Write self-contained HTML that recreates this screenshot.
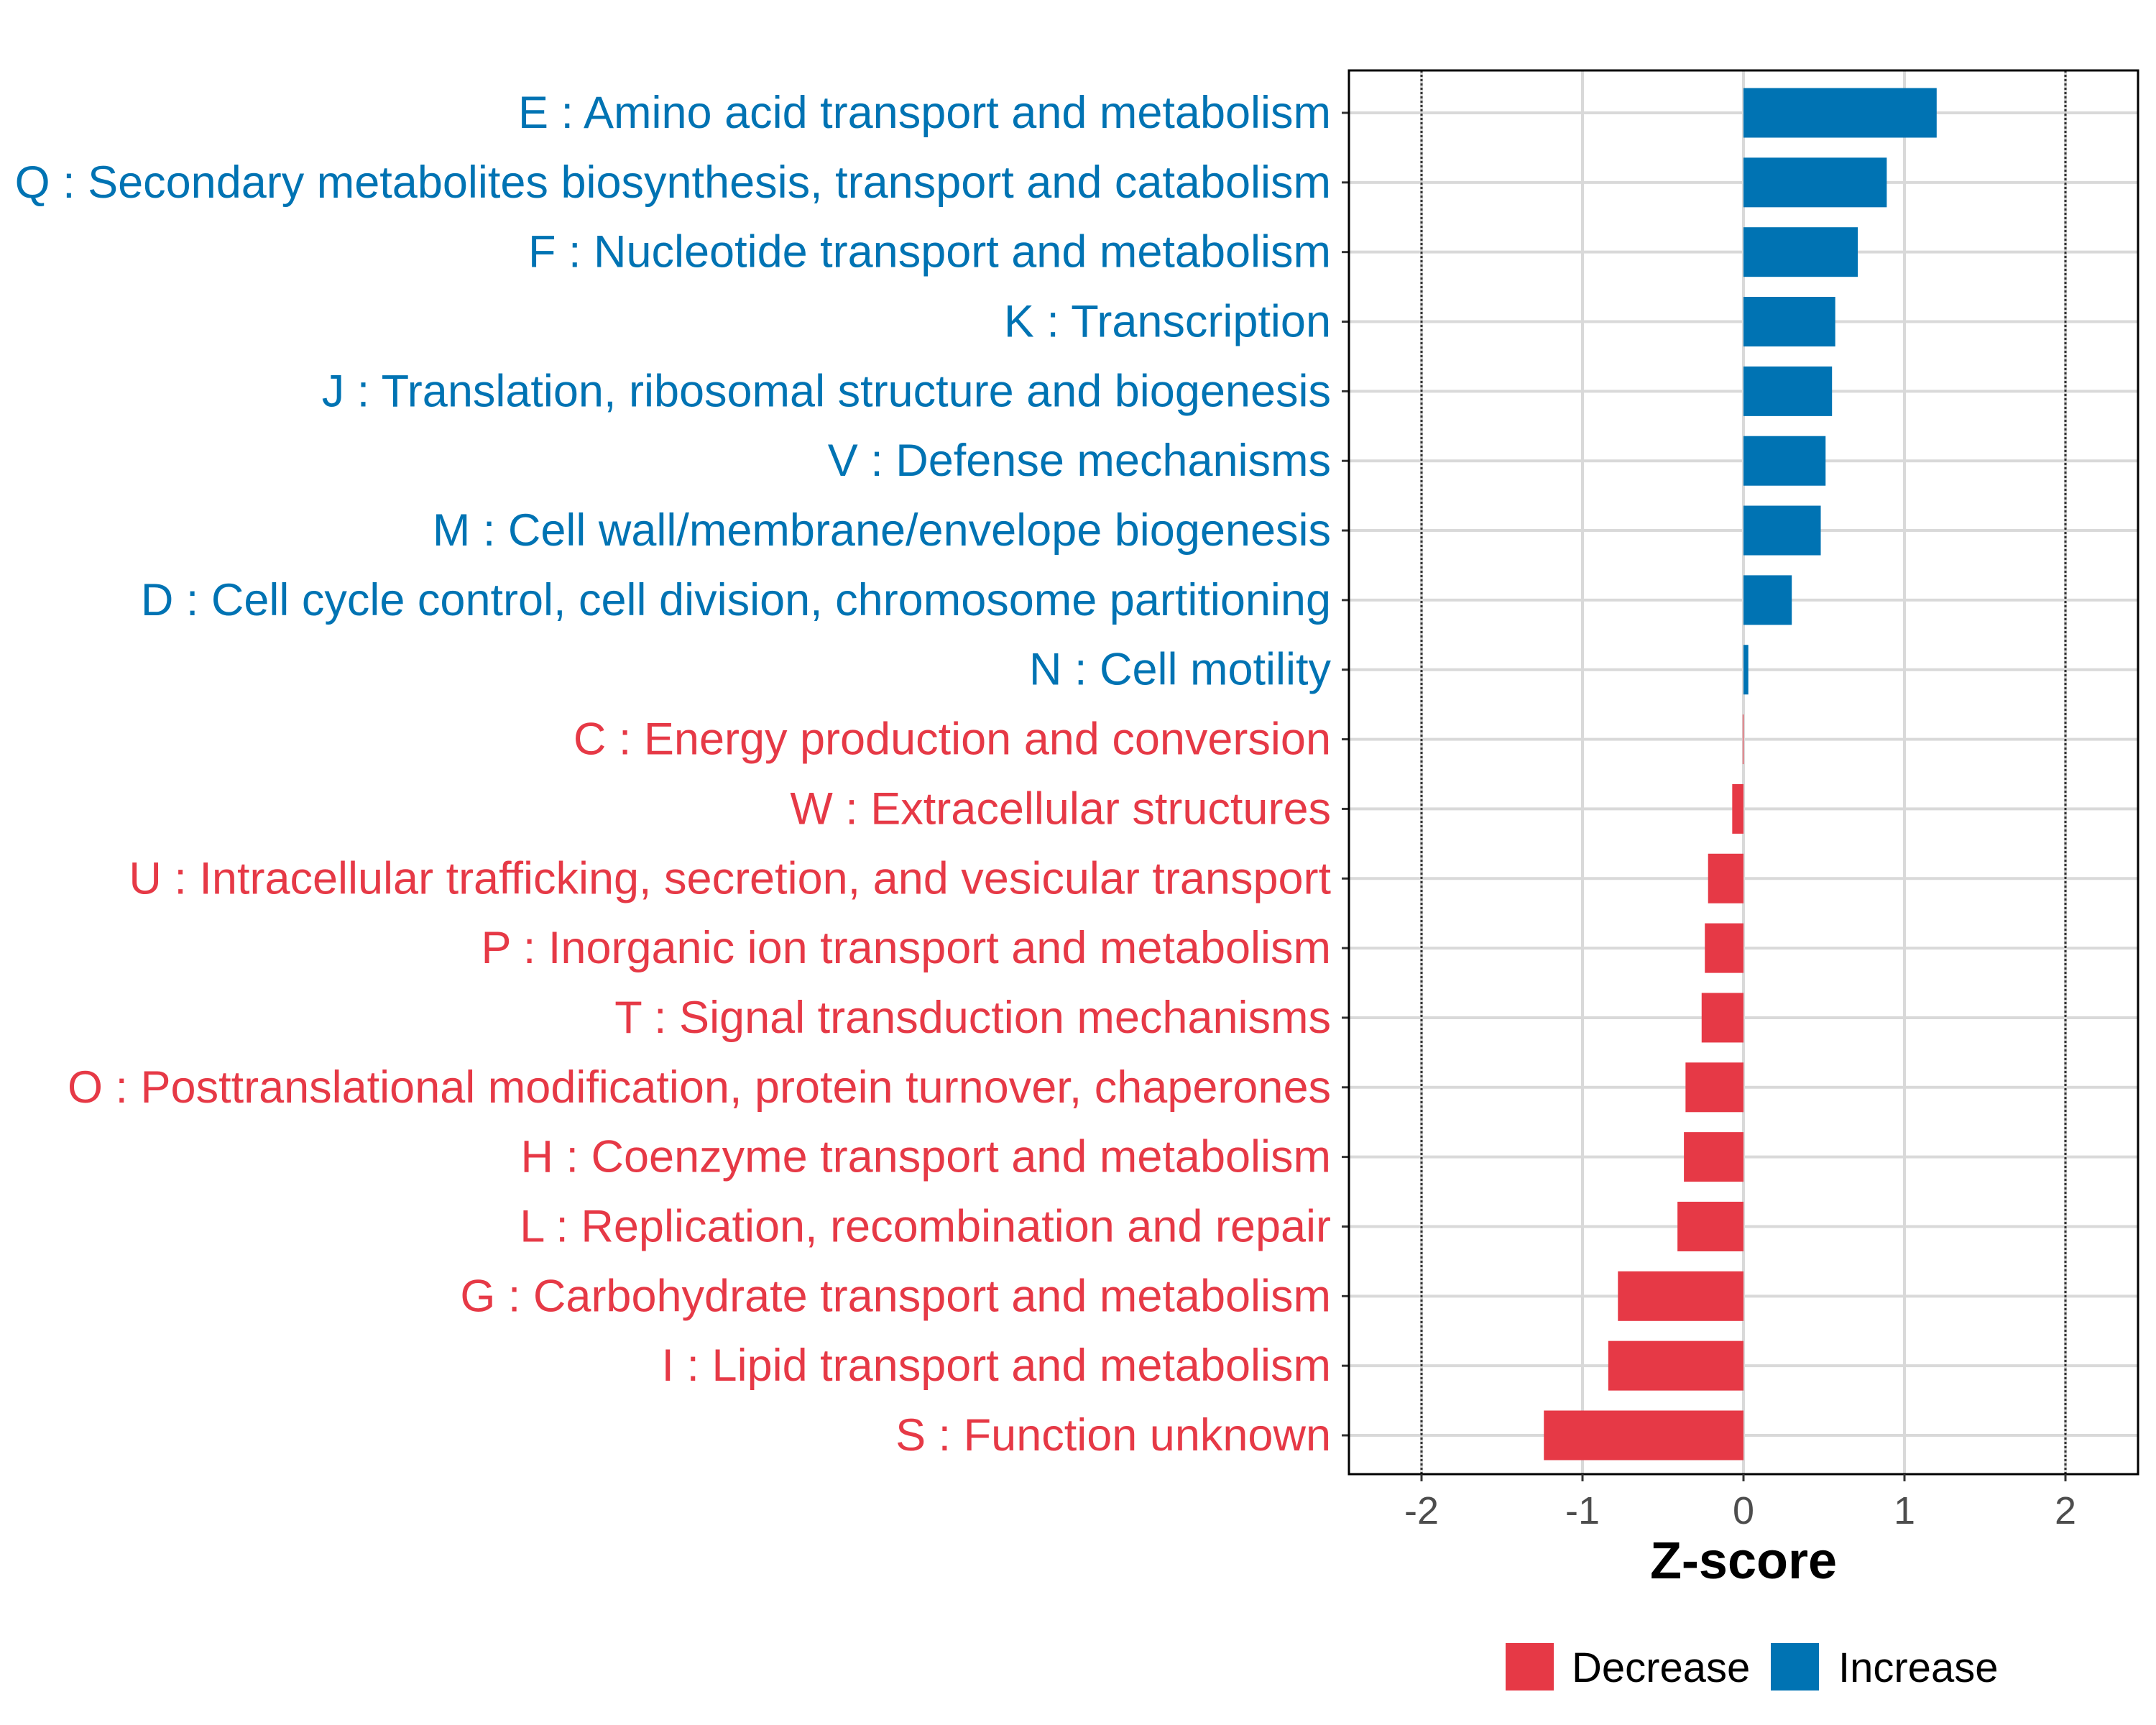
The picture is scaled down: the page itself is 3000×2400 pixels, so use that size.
<!DOCTYPE html>
<html><head><meta charset="utf-8"><style>body{margin:0;background:#fff}svg{display:block}</style></head>
<body>
<svg id="chart" width="3000" height="2400" xmlns="http://www.w3.org/2000/svg" font-family="Liberation Sans, sans-serif"></svg>
<script>
const categories = ["E : Amino acid transport and metabolism","Q : Secondary metabolites biosynthesis, transport and catabolism","F : Nucleotide transport and metabolism","K : Transcription","J : Translation, ribosomal structure and biogenesis","V : Defense mechanisms","M : Cell wall/membrane/envelope biogenesis","D : Cell cycle control, cell division, chromosome partitioning","N : Cell motility","C : Energy production and conversion","W : Extracellular structures","U : Intracellular trafficking, secretion, and vesicular transport","P : Inorganic ion transport and metabolism","T : Signal transduction mechanisms","O : Posttranslational modification, protein turnover, chaperones","H : Coenzyme transport and metabolism","L : Replication, recombination and repair","G : Carbohydrate transport and metabolism","I : Lipid transport and metabolism","S : Function unknown"];
const zscores = [1.20,0.89,0.71,0.57,0.55,0.51,0.48,0.30,0.03,-0.005,-0.07,-0.22,-0.24,-0.26,-0.36,-0.37,-0.41,-0.78,-0.84,-1.24];
const xTicks = [-2,-1,0,1,2];
const xTickLabels = ["-2","-1","0","1","2"];
const BLUE="#0073B3", RED="#E63946";
const svg=document.getElementById('chart');
const NS="http://www.w3.org/2000/svg";
const L=1877,R=2975,T=98,B=2051;
const x=v=>2426+v*224;
const y=i=>157+i*(1997-157)/(categories.length-1);
function mk(tag,attrs,parent){const e=document.createElementNS(NS,tag);for(const k in attrs)e.setAttribute(k,attrs[k]);(parent||svg).appendChild(e);return e;}
xTicks.forEach(t=>{const g=mk('line',{x1:x(t),x2:x(t),y1:T,y2:B,stroke:'#d9d9d9','stroke-width':4});

});
categories.forEach((c,i)=>{const g=mk('line',{x1:L,x2:R,y1:y(i),y2:y(i),stroke:'#d9d9d9','stroke-width':4});

});
[-2,2].forEach(t=>{const g=mk('line',{x1:x(t),x2:x(t),y1:T,y2:B,stroke:'#333','stroke-width':3,'stroke-dasharray':'3,3'});

});
const bh=69;
zscores.forEach((v,i)=>{const c=v>=0?BLUE:RED;
const r=mk('rect',{x:Math.min(x(0),x(v)),y:y(i)-bh/2,width:Math.max(Math.abs(x(v)-x(0)),1),height:bh,fill:c});


const t=mk('text',{x:1852,y:y(i)+21,'text-anchor':'end','font-size':63,fill:c});
t.textContent=categories[i];


const tk=mk('line',{x1:L-10,x2:L,y1:y(i),y2:y(i),stroke:'#333','stroke-width':3});

});
const fr=mk('rect',{x:L,y:T,width:R-L,height:B-T,fill:'none',stroke:'#000','stroke-width':3});


xTicks.forEach((t,i)=>{const tk=mk('line',{x1:x(t),x2:x(t),y1:B,y2:B+10,stroke:'#333','stroke-width':3});


const tl=mk('text',{x:x(t),y:2120,'text-anchor':'middle','font-size':54,fill:'#4d4d4d'});
tl.textContent=xTickLabels[i];

});
const at=mk('text',{x:x(0),y:2196,'text-anchor':'middle','font-size':72,'font-weight':'bold',fill:'#000'});
at.textContent='Z-score';


const lg=mk('g',{});


[[2095,RED,'Decrease',2187],[2464,BLUE,'Increase',2558]].forEach(([kx,c,lab,tx])=>{
const k=mk('rect',{x:kx,y:2286,width:67,height:66,fill:c},lg);


const t=mk('text',{x:tx,y:2340,'font-size':58,fill:'#000'},lg);
t.textContent=lab;

});
</script>
</body></html>
